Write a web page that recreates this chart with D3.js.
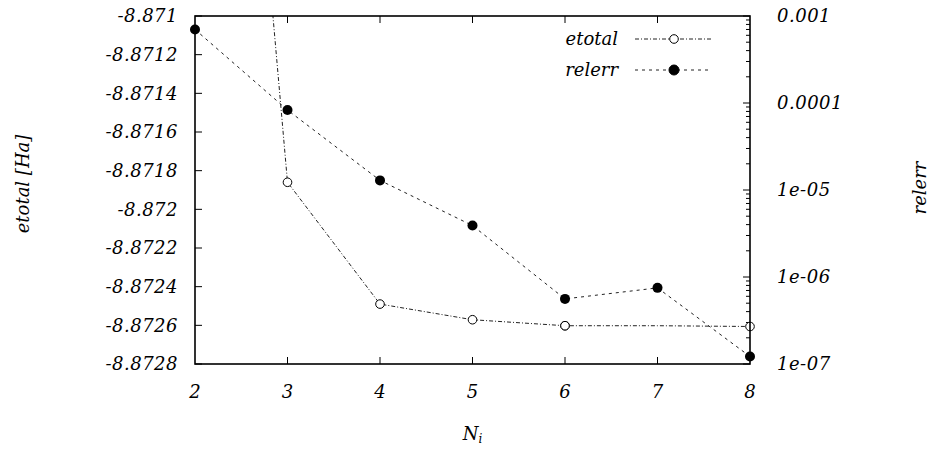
<!DOCTYPE html>
<html>
<head>
<meta charset="utf-8">
<script src="https://cdn.jsdelivr.net/npm/d3@7"></script>
<style>
  body { margin: 0; background: #fff; }
  text { font-family: "DejaVu Serif", "Liberation Serif", serif; font-style: italic; fill: #000; }
</style>
</head>
<body>
<div id="chart"></div>
<script>
var svgWidth = 932;
var svgHeight = 449;

var margin = { top: 16, right: 182, bottom: 85, left: 195 };
var width = svgWidth - margin.left - margin.right;
var height = svgHeight - margin.top - margin.bottom;

// data
var ni = [2, 3, 4, 5, 6, 7, 8];
var etotal = [-8.8664, -8.87186, -8.87249, -8.872571, -8.872602, -8.872602, -8.872606];
var relerr = [7.0e-4, 8.3e-5, 1.29e-5, 3.9e-6, 5.6e-7, 7.5e-7, 1.22e-7];

var leftTicks = [-8.871, -8.8712, -8.8714, -8.8716, -8.8718, -8.872, -8.8722, -8.8724, -8.8726, -8.8728];
var leftLabels = ["-8.871", "-8.8712", "-8.8714", "-8.8716", "-8.8718", "-8.872", "-8.8722", "-8.8724", "-8.8726", "-8.8728"];
var rightTicks = [1e-3, 1e-4, 1e-5, 1e-6, 1e-7];
var rightLabels = ["0.001", "0.0001", "1e-05", "1e-06", "1e-07"];

var svg = d3.select("#chart")
  .append("svg")
  .attr("width", svgWidth)
  .attr("height", svgHeight);

var chartGroup = svg.append("g")
  .attr("transform", `translate(${margin.left}, ${margin.top})`);

var x = d3.scaleLinear().domain([2, 8]).range([0, width]);
var y = d3.scaleLinear().domain([-8.8728, -8.871]).range([height, 0]);
var y2 = d3.scaleLog().domain([1e-7, 1e-3]).range([height, 0]);

chartGroup.append("clipPath")
  .attr("id", "clip")
  .append("rect")
  .attr("width", width)
  .attr("height", height);

// ticks (all pointing inward, like gnuplot)
var tickLen = 7;
var xTicks = ni.slice(1, -1);
var tickGroup = chartGroup.append("g")
  .attr("stroke", "#000")
  .attr("stroke-width", 1);

xTicks.forEach(function(t) {
  tickGroup.append("line").attr("x1", x(t)).attr("x2", x(t)).attr("y1", height).attr("y2", height - tickLen);
  tickGroup.append("line").attr("x1", x(t)).attr("x2", x(t)).attr("y1", 0).attr("y2", tickLen);
});
leftTicks.forEach(function(t) {
  tickGroup.append("line").attr("x1", 0).attr("x2", tickLen).attr("y1", y(t)).attr("y2", y(t));
});
// log minor ticks on the right axis
var minor = [];
rightTicks.forEach(function(d) {
  for (var k = 2; k <= 9; k++) {
    if (d * k < 1e-3) minor.push(d * k);
  }
});
rightTicks.forEach(function(t) {
  tickGroup.append("line").attr("x1", width).attr("x2", width - tickLen).attr("y1", y2(t)).attr("y2", y2(t));
});
minor.forEach(function(t) {
  tickGroup.append("line").attr("x1", width).attr("x2", width - 4).attr("y1", y2(t)).attr("y2", y2(t));
});

// tick labels
chartGroup.selectAll(".ylab")
  .data(leftTicks)
  .enter()
  .append("text")
  .attr("x", -17)
  .attr("y", d => y(d))
  .attr("dy", "0.36em")
  .attr("text-anchor", "end")
  .attr("font-size", "18px")
  .attr("letter-spacing", "0.5px")
  .text((d, i) => leftLabels[i]);

chartGroup.selectAll(".y2lab")
  .data(rightTicks)
  .enter()
  .append("text")
  .attr("x", width + 27)
  .attr("y", d => y2(d))
  .attr("dy", "0.36em")
  .attr("font-size", "18px")
  .attr("letter-spacing", "0.5px")
  .text((d, i) => rightLabels[i]);

chartGroup.selectAll(".xlab")
  .data(ni)
  .enter()
  .append("text")
  .attr("x", d => x(d))
  .attr("y", height + 28)
  .attr("dy", "0.36em")
  .attr("text-anchor", "middle")
  .attr("font-size", "18px")
  .text(d => d);

// axis titles
svg.append("text")
  .attr("transform", "translate(29, 184) rotate(-90)")
  .attr("text-anchor", "middle")
  .attr("font-size", "18px")
  .text("etotal [Ha]");

svg.append("text")
  .attr("transform", "translate(926, 188) rotate(-90)")
  .attr("text-anchor", "middle")
  .attr("font-size", "18px")
  .text("relerr");

var nt = svg.append("text")
  .attr("x", margin.left + width / 2)
  .attr("y", 440)
  .attr("text-anchor", "middle")
  .attr("font-size", "18px");
nt.append("tspan").text("N");
nt.append("tspan").attr("font-size", "12px").attr("dy", "3").text("i");

// series
var plot = chartGroup.append("g").attr("clip-path", "url(#clip)");

var lineE = d3.line().x((d, i) => x(ni[i])).y(d => y(d));
var lineR = d3.line().x((d, i) => x(ni[i])).y(d => y2(d));

plot.append("path")
  .datum(etotal)
  .attr("d", lineE)
  .attr("fill", "none")
  .attr("stroke", "#222")
  .attr("stroke-width", 1)
  .attr("stroke-dasharray", "4,2,1,2");

plot.append("path")
  .datum(relerr)
  .attr("d", lineR)
  .attr("fill", "none")
  .attr("stroke", "#222")
  .attr("stroke-width", 1)
  .attr("stroke-dasharray", "3,4");

chartGroup.selectAll(".ept")
  .data(etotal.filter(d => d >= -8.8728 && d <= -8.871))
  .enter()
  .append("circle")
  .attr("cx", d => x(ni[etotal.indexOf(d)]))
  .attr("cy", d => y(d))
  .attr("r", 4.3)
  .attr("fill", "#fff")
  .attr("stroke", "#000")
  .attr("stroke-width", 1);

chartGroup.selectAll(".rpt")
  .data(relerr)
  .enter()
  .append("circle")
  .attr("cx", (d, i) => x(ni[i]))
  .attr("cy", d => y2(d))
  .attr("r", 5)
  .attr("fill", "#000");

// frame
chartGroup.append("rect")
  .attr("width", width)
  .attr("height", height)
  .attr("fill", "none")
  .attr("stroke", "#000")
  .attr("stroke-width", 1.6);

// legend
var legend = chartGroup.append("g");
var legendItems = [
  { name: "etotal", dash: "4,2,1,2", filled: false },
  { name: "relerr", dash: "3,4", filled: true }
];
legendItems.forEach(function(item, i) {
  var ly = 23 + i * 31;
  legend.append("text")
    .attr("x", 423)
    .attr("y", ly)
    .attr("dy", "0.36em")
    .attr("text-anchor", "end")
    .attr("font-size", "18px")
    .text(item.name);
  legend.append("line")
    .attr("x1", 440).attr("x2", 517)
    .attr("y1", ly).attr("y2", ly)
    .attr("stroke", "#222")
    .attr("stroke-dasharray", item.dash);
  legend.append("circle")
    .attr("cx", 479)
    .attr("cy", ly)
    .attr("r", item.filled ? 5 : 4.3)
    .attr("fill", item.filled ? "#000" : "#fff")
    .attr("stroke", "#000");
});
</script>
</body>
</html>
